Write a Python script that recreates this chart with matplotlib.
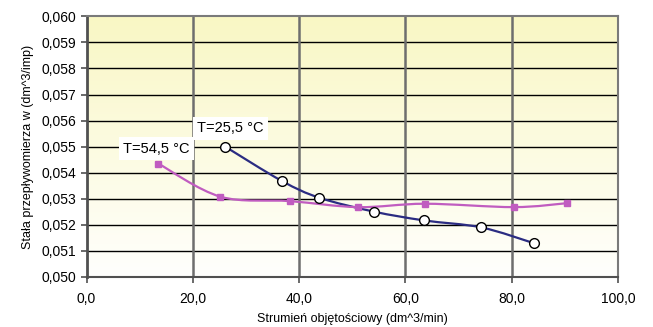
import numpy as np
import matplotlib
matplotlib.use("Agg")
import matplotlib.pyplot as plt
from matplotlib.path import Path
from matplotlib.patches import PathPatch
from matplotlib.ticker import FuncFormatter

plt.rcParams['font.family'] = ['Liberation Sans', 'DejaVu Sans']

# T = 25,5 °C
x_25 = [26.1, 36.7, 43.8, 54.0, 63.5, 74.3, 84.1]
y_25 = [0.0550, 0.05369, 0.05304, 0.05251, 0.05217, 0.05190, 0.05130]

# T = 54,5 °C
x_54 = [13.5, 25.2, 38.3, 51.1, 63.7, 80.4, 90.3]
y_54 = [0.05435, 0.05308, 0.05291, 0.05268, 0.05281, 0.05268, 0.05283]

label_25 = "T=25,5 °C"
label_54 = "T=54,5 °C"


def smooth_path(ax, xs, ys):
    # Excel-like smoothed line: Catmull-Rom converted to Bezier, drawn in display space
    pts = ax.transData.transform(np.column_stack([xs, ys]))
    verts = [pts[0]]
    codes = [Path.MOVETO]
    n = len(pts)
    for i in range(n - 1):
        p0 = pts[max(i - 1, 0)]
        p1 = pts[i]
        p2 = pts[i + 1]
        p3 = pts[min(i + 2, n - 1)]
        c1 = p1 + (p2 - p0) / 6.0
        c2 = p2 - (p3 - p1) / 6.0
        verts += [c1, c2, p2]
        codes += [Path.CURVE4] * 3
    return Path(verts, codes)


fig = plt.figure(figsize=(6.53, 3.27), dpi=100)
ax = fig.add_axes([0.1325, 0.153, 0.814, 0.797])

# yellow (top) to white (bottom) gradient background
grad = np.linspace(0, 1, 256).reshape(-1, 1)
top = np.array([249, 247, 196]) / 255.0
bot = np.array([255, 255, 253]) / 255.0
img = top * (1 - grad)[..., None] + bot * grad[..., None]
ax.imshow(img, extent=[0, 100, 0.050, 0.060], aspect='auto', zorder=0)
ax.set_xlim(0, 100)
ax.set_ylim(0.050, 0.060)

ax.set_xticks(np.arange(0, 101, 20))
ax.set_yticks(np.arange(0.050, 0.0601, 0.001))
for yv in np.arange(0.051, 0.0600, 0.001):
    ax.axhline(yv, color='black', lw=1.0, zorder=1)
for xv in np.arange(20, 100, 20):
    ax.axvline(xv, color='#6e6e6e', lw=1.8, zorder=1)

fig.canvas.draw()
ax.add_patch(PathPatch(smooth_path(ax, x_25, y_25), transform=None,
                       fill=False, edgecolor='#2b2c82', lw=1.6, zorder=3))
ax.add_patch(PathPatch(smooth_path(ax, x_54, y_54), transform=None,
                       fill=False, edgecolor='#c05cc0', lw=1.6, zorder=3))
ax.plot(x_25, y_25, ls='none', marker='o', ms=7, mfc='white', mec='black',
        mew=1.0, zorder=4)
ax.plot(x_54, y_54, ls='none', marker='s', ms=4.5, mfc='#c05cc0', mec='#c05cc0',
        zorder=4)

box = dict(boxstyle='square,pad=0.3', fc='white', ec='none')
ax.text(x_25[0] - 5.3, y_25[0] + 0.0007, label_25, fontsize=10.5, ha='left',
        va='center', bbox=box, zorder=5)
ax.text(x_54[0] - 6.6, y_54[0] + 0.00057, label_54, fontsize=10.5, ha='left',
        va='center', bbox=box, zorder=5)

for s in ['top', 'right']:
    ax.spines[s].set_color('#7a7a7a')
    ax.spines[s].set_linewidth(1.5)
ax.spines['left'].set_color('#505050')
ax.spines['left'].set_linewidth(2)
ax.spines['bottom'].set_color('#505050')
ax.spines['bottom'].set_linewidth(1.5)

ax.xaxis.set_major_formatter(FuncFormatter(lambda v, p: f"{v:.1f}".replace('.', ',')))
ax.yaxis.set_major_formatter(FuncFormatter(lambda v, p: f"{v:.3f}".replace('.', ',')))
ax.tick_params(axis='both', labelsize=10, length=4, color='#505050', width=1.2)
ax.tick_params(axis='x', pad=7)

ax.set_xlabel("Strumień objętościowy (dm^3/min)", fontsize=9, labelpad=5)
ax.set_ylabel("Stała przepływomierza w (dm^3/imp)", fontsize=9, labelpad=5)

fig.savefig("out.png", dpi=100)
